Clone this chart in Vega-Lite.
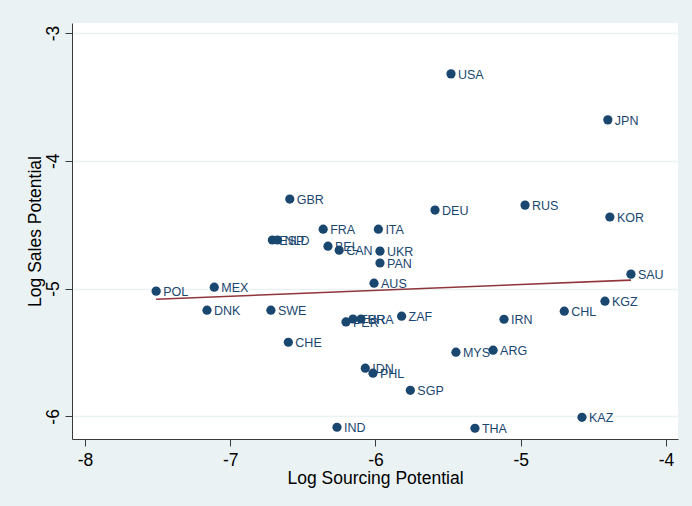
{
  "$schema": "https://vega.github.io/schema/vega-lite/v6.json",
  "width": 606,
  "height": 416,
  "autosize": {"type": "none"},
  "padding": {"left": 72, "top": 23, "right": 14, "bottom": 67},
  "background": "#EAF2F3",
  "config": {
    "font": "Liberation Sans",
    "view": {"fill": "#ffffff", "stroke": null},
    "axis": {
      "domainColor": "#3a3a3a",
      "domainWidth": 1,
      "tickColor": "#3a3a3a",
      "tickSize": 7,
      "labelFont": "Liberation Sans",
      "labelFontSize": 17.5,
      "labelColor": "#000000",
      "titleFont": "Liberation Sans",
      "titleFontSize": 17.5,
      "titleFontWeight": "normal",
      "titleColor": "#000000"
    }
  },
  "datasets": {
    "countries": [
      {"iso": "USA", "sourcing": -5.48, "sales": -3.32},
      {"iso": "JPN", "sourcing": -4.40, "sales": -3.68},
      {"iso": "GBR", "sourcing": -6.59, "sales": -4.30},
      {"iso": "DEU", "sourcing": -5.59, "sales": -4.386},
      {"iso": "RUS", "sourcing": -4.97, "sales": -4.347},
      {"iso": "KOR", "sourcing": -4.386, "sales": -4.44},
      {"iso": "FRA", "sourcing": -6.36, "sales": -4.535},
      {"iso": "ITA", "sourcing": -5.98, "sales": -4.535},
      {"iso": "ESP", "sourcing": -6.71, "sales": -4.62},
      {"iso": "NLD", "sourcing": -6.675, "sales": -4.62},
      {"iso": "BEL", "sourcing": -6.327, "sales": -4.668},
      {"iso": "CAN", "sourcing": -6.25, "sales": -4.70},
      {"iso": "UKR", "sourcing": -5.969, "sales": -4.707},
      {"iso": "PAN", "sourcing": -5.969, "sales": -4.80},
      {"iso": "SAU", "sourcing": -4.241, "sales": -4.887},
      {"iso": "AUS", "sourcing": -6.01, "sales": -4.958},
      {"iso": "POL", "sourcing": -7.51, "sales": -5.02},
      {"iso": "MEX", "sourcing": -7.11, "sales": -4.989},
      {"iso": "KGZ", "sourcing": -4.42, "sales": -5.099},
      {"iso": "DNK", "sourcing": -7.16, "sales": -5.169},
      {"iso": "SWE", "sourcing": -6.72, "sales": -5.169},
      {"iso": "CHL", "sourcing": -4.70, "sales": -5.177},
      {"iso": "ZAF", "sourcing": -5.82, "sales": -5.216},
      {"iso": "IRN", "sourcing": -5.115, "sales": -5.24},
      {"iso": "PER", "sourcing": -6.203, "sales": -5.261},
      {"iso": "TUR", "sourcing": -6.155, "sales": -5.238},
      {"iso": "BRA", "sourcing": -6.10, "sales": -5.238},
      {"iso": "CHE", "sourcing": -6.60, "sales": -5.42},
      {"iso": "MYS", "sourcing": -5.446, "sales": -5.498},
      {"iso": "ARG", "sourcing": -5.19, "sales": -5.482},
      {"iso": "IDN", "sourcing": -6.07, "sales": -5.623},
      {"iso": "PHL", "sourcing": -6.017, "sales": -5.662},
      {"iso": "SGP", "sourcing": -5.76, "sales": -5.796},
      {"iso": "KAZ", "sourcing": -4.578, "sales": -6.007},
      {"iso": "IND", "sourcing": -6.265, "sales": -6.085},
      {"iso": "THA", "sourcing": -5.315, "sales": -6.093}
    ],
    "fitted": [
      {"sourcing": -7.51, "fit": -5.083},
      {"sourcing": -4.241, "fit": -4.934}
    ]
  },
  "layer": [
    {
      "data": {"name": "countries"},
      "mark": {"type": "circle", "size": 85, "opacity": 1, "color": "#1a476f"},
      "encoding": {
        "x": {
          "field": "sourcing",
          "type": "quantitative",
          "scale": {"domain": [-8.0895, -3.917], "nice": false, "zero": false},
          "axis": {
            "values": [-8, -7, -6, -5, -4],
            "labelExpr": "'' + datum.value",
            "grid": false,
            "title": "Log Sourcing Potential",
            "labelPadding": 5,
            "titlePadding": 1
          }
        },
        "y": {
          "field": "sales",
          "type": "quantitative",
          "scale": {"domain": [-6.177, -2.922], "nice": false, "zero": false},
          "axis": {
            "values": [-3, -4, -5, -6],
            "labelExpr": "'' + datum.value",
            "grid": true,
            "gridColor": "#EAF2F3",
            "gridWidth": 1.5,
            "labelAngle": -90,
            "labelAlign": "center",
            "labelBaseline": "bottom",
            "labelPadding": 3,
            "title": "Log Sales Potential",
            "titlePadding": 0
          }
        }
      }
    },
    {
      "data": {"name": "countries"},
      "mark": {
        "type": "text",
        "align": "left",
        "baseline": "middle",
        "dx": 7,
        "dy": 1,
        "fontSize": 12.5,
        "font": "Liberation Sans",
        "color": "#1a476f"
      },
      "encoding": {
        "x": {"field": "sourcing", "type": "quantitative"},
        "y": {"field": "sales", "type": "quantitative"},
        "text": {"field": "iso"}
      }
    },
    {
      "data": {"name": "fitted"},
      "mark": {"type": "line", "color": "#90353B", "strokeWidth": 1.6},
      "encoding": {
        "x": {"field": "sourcing", "type": "quantitative"},
        "y": {"field": "fit", "type": "quantitative"}
      }
    }
  ]
}
